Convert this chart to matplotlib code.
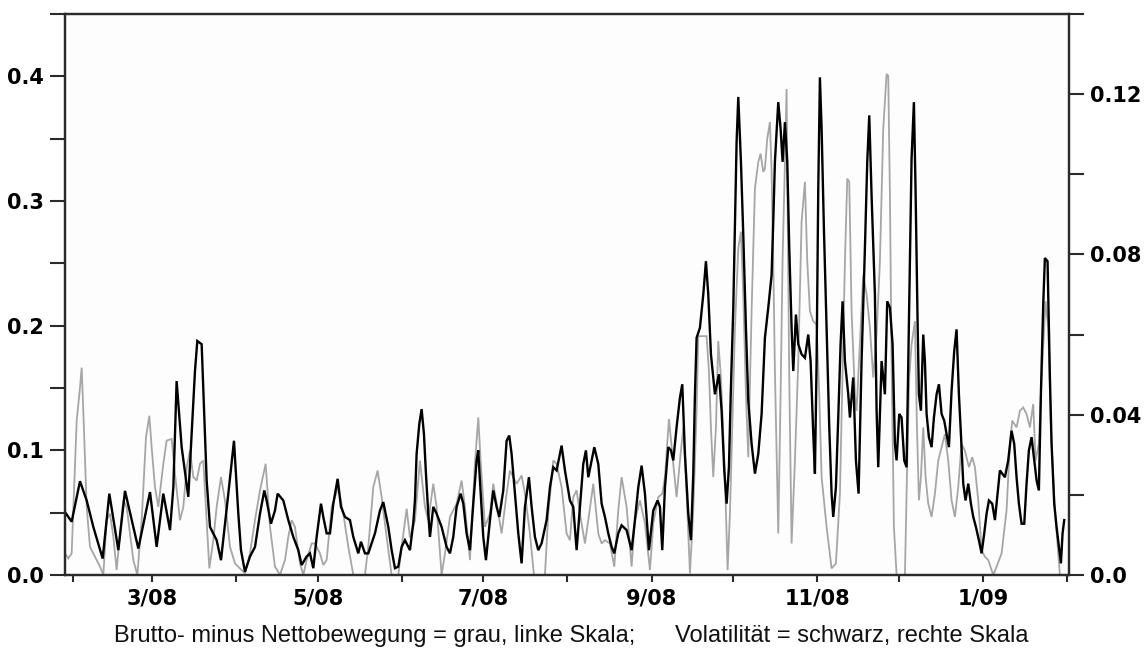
import numpy as np
import matplotlib
matplotlib.use('Agg')
import matplotlib.pyplot as plt
import matplotlib.dates as mdates
from matplotlib.ticker import FixedLocator, FixedFormatter, FuncFormatter
import datetime as dt

start_date = dt.datetime(2008, 1, 29)
x_end_day = 369.7

gray_days = [0, 1.23, 2.45, 4.3, 5.52, 6.14, 7.0, 7.98, 9.2, 11.05, 12.89, 14.11, 15.34, 16.57, 17.8,
             19.02, 20.25, 21.48, 22.7, 23.93, 25.16, 26.63, 28.23, 29.82, 31.05, 31.91, 33.13, 34.36,
             36.2, 37.43, 39.27, 40.5, 42.34, 43.57, 44.8, 46.02, 47.25, 48.48, 49.71, 50.93, 52.16,
             53.14, 54.61, 55.84, 57.44, 58.91, 60.75, 62.59, 66.27, 68.11, 69.95, 71.8, 73.88, 75.48,
             77.32, 79.16, 81.0, 82.23, 83.45, 84.68, 86.52, 87.75, 88.98, 90.82, 92.05, 93.89, 95.11,
             96.34, 98.18, 99.41, 100.64, 102.48, 104.32, 106.16, 110.45, 111.68, 113.52, 115.12,
             116.59, 118.43, 120.27, 122.73, 123.96, 125.8, 127.02, 128.86, 130.7, 132.54, 133.77,
             135.61, 136.84, 138.68, 139.91, 141.75, 144.2, 146.04, 147.27, 149.11, 150.95, 152.18,
             153.04, 154.63, 156.48, 157.7, 159.18, 160.77, 162.61, 163.84, 166.29, 168.13, 169.36,
             171.2, 172.68, 176.73, 177.95, 179.79, 181.02, 182.86, 184.7, 185.93, 187.16, 188.39,
             189.61, 191.46, 192.69, 194.53, 196.37, 197.6, 198.82, 200.66, 202.26, 203.73, 204.96,
             206.8, 208.64, 209.87, 211.71, 213.55, 215.39, 216.62, 218.46, 219.93, 220.92, 222.39,
             223.98, 225.21, 226.44, 227.67, 228.89, 230.12, 231.35, 232.57, 233.19, 236.26, 237.11,
             237.85, 238.71, 239.69, 240.55, 241.53, 243.01, 243.99, 244.85, 245.71, 246.69, 247.92,
             248.9, 249.76, 250.74, 251.6, 252.82, 254.05, 255.28, 256.14, 257.12, 257.73, 258.59,
             259.57, 260.19, 260.8, 261.41, 262.64, 263.5, 264.24, 265.1, 265.71, 266.08, 266.69,
             267.55, 268.78, 270.01, 271.23, 272.46, 273.32, 274.3, 275.53, 276.76, 277.74, 278.6,
             280.44, 282.28, 283.87, 285.35, 286.33, 287.19, 288.05, 288.78, 289.64, 290.87, 291.48,
             293.94, 295.17, 296.39, 297.62, 298.85, 300.07, 301.3, 302.53, 303.14, 303.76, 304.37,
             305.23, 306.21, 309.28, 310.14, 310.87, 311.73, 312.96, 313.7, 314.43, 315.17, 316.03,
             316.89, 317.87, 319.1, 320.32, 321.55, 322.78, 324.0, 325.23, 326.46, 327.69, 328.91,
             330.14, 331.37, 332.84, 334.07, 335.05, 336.28, 337.51, 338.73, 339.96, 341.8, 343.03,
             344.87, 346.71, 347.94, 348.8, 350.39, 351.62, 352.85, 354.07, 355.3, 356.53, 357.39,
             358.61, 359.6, 361.07, 362.05, 363.03, 364.5, 366.35, 366.97]
gray_vals = [0.0173, 0.0133, 0.0173, 0.1238, 0.1504, 0.1663, 0.1158, 0.0546, 0.0226, 0.0146, 0.0067,
             0.0, 0.0439, 0.0492, 0.0306, 0.0040, 0.0333, 0.0599, 0.0546, 0.0333, 0.0120, 0.0, 0.0439,
             0.1104, 0.1277, 0.1025, 0.0705, 0.0546, 0.0892, 0.1078, 0.1091, 0.0812, 0.0439, 0.0546,
             0.0865, 0.0998, 0.0785, 0.0758, 0.0892, 0.0918, 0.0439, 0.0053, 0.0279, 0.0546, 0.0785,
             0.0599, 0.0226, 0.0093, 0.0013, 0.0173, 0.0439, 0.0679, 0.0892, 0.0386, 0.0067, 0.0,
             0.0120, 0.0306, 0.0439, 0.0386, 0.0093, 0.0, 0.0120, 0.0253, 0.0253, 0.0173, 0.0080,
             0.0120, 0.0546, 0.0625, 0.0705, 0.0492, 0.0226, 0.0, 0.0, 0.0226, 0.0705, 0.0838, 0.0625,
             0.0306, 0.0, 0.0, 0.0226, 0.0532, 0.0300, 0.0439, 0.0918, 0.0546, 0.0439, 0.0732, 0.0546,
             0.0, 0.0173, 0.0466, 0.0572, 0.0758, 0.0546, 0.0120, 0.0892, 0.1264, 0.0918, 0.0386,
             0.0492, 0.0732, 0.0546, 0.0333, 0.0652, 0.0838, 0.0732, 0.0798, 0.0652, 0.0333, 0.0, 0.0,
             0.0492, 0.0918, 0.0892, 0.0705, 0.0333, 0.0279, 0.0625, 0.0679, 0.0492, 0.0253, 0.0439,
             0.0732, 0.0333, 0.0253, 0.0279, 0.0253, 0.0067, 0.0519, 0.0785, 0.0546, 0.0067, 0.0439,
             0.0599, 0.0413, 0.0040, 0.0413, 0.0625, 0.0652, 0.0785, 0.1251, 0.0892, 0.0625, 0.0918,
             0.1184, 0.0652, 0.0013, 0.0519, 0.1317, 0.1916, 0.1916, 0.1637, 0.1184, 0.0785, 0.1184,
             0.1876, 0.1584, 0.0785, 0.0040, 0.0492, 0.1184, 0.1983, 0.2621, 0.2754, 0.2249, 0.1450,
             0.0945, 0.2116, 0.3100, 0.3313, 0.3380, 0.3234, 0.3260, 0.3500, 0.3633, 0.3234, 0.2515,
             0.1637, 0.0333, 0.1450, 0.2542, 0.3313, 0.3899, 0.2967, 0.1584, 0.0253, 0.0918, 0.1717,
             0.2834, 0.3154, 0.2515, 0.2116, 0.2036, 0.2009, 0.1450, 0.0785, 0.0386, 0.0053, 0.0093,
             0.0652, 0.1663, 0.2515, 0.3180, 0.3154, 0.2116, 0.1450, 0.1317, 0.2409, 0.2249, 0.1983,
             0.1584, 0.1929, 0.2515, 0.3580, 0.4019, 0.4005, 0.3047, 0.1717, 0.0386, 0.0, 0.0, 0.0918,
             0.1584, 0.1850, 0.2036, 0.1200, 0.0599, 0.0785, 0.1184, 0.0785, 0.0572, 0.0466, 0.0652,
             0.0918, 0.1025, 0.1131, 0.0918, 0.0599, 0.0466, 0.0705, 0.1051, 0.0998, 0.0865, 0.0945,
             0.0865, 0.0599, 0.0200, 0.0146, 0.0120, 0.0, 0.0067, 0.0173, 0.0519, 0.1051, 0.1238,
             0.1184, 0.1317, 0.1344, 0.1291, 0.1184, 0.1371, 0.0918, 0.1051, 0.1584, 0.2196, 0.1983,
             0.1184, 0.0519, 0.0, 0.0]

black_days = [0, 2.45, 5.52, 7.98, 10.43, 13.87, 16.32, 19.64, 22.09, 27.0, 31.3, 33.75, 36.2, 38.66,
              39.9, 41.1, 42.96, 45.4, 47.86, 48.72, 50.32, 52.16, 53.39, 55.84, 57.44, 60.14, 62.22,
              63.82, 64.8, 66.27, 68.11, 69.96, 71.8, 73.39, 74.25, 75.85, 77.32, 78.3, 80.39, 82.23,
              84.07, 85.91, 87.14, 88.98, 90.2, 91.43, 92.66, 94.26, 95.11, 96.34, 97.57, 98.8, 100.39,
              101.62, 103.09, 104.93, 106.16, 108.0, 108.98, 110.46, 111.68, 114.14, 115.98, 117.2,
              119.05, 120.28, 121.5, 122.73, 123.96, 125.18, 127.02, 128.25, 128.86, 129.47, 130.46,
              131.32, 132.17, 132.91, 133.77, 134.38, 135.61, 136.84, 138.68, 140.52, 141.75, 142.97,
              144.2, 145.68, 146.66, 147.88, 149.11, 150.34, 151.57, 152.18, 152.79, 154.02, 155.0,
              156.48, 157.7, 158.93, 159.91, 161.38, 162.61, 163.59, 164.45, 165.68, 166.91, 168.13,
              169.36, 170.83, 171.82, 173.04, 174.27, 175.5, 177.34, 178.57, 179.79, 181.02, 182.86,
              184.09, 185.93, 187.16, 188.39, 189.61, 190.84, 191.82, 192.69, 193.91, 194.9, 196.37,
              197.6, 198.82, 200.05, 201.28, 202.26, 203.73, 204.96, 206.8, 208.64, 209.87, 211.1,
              212.32, 213.55, 215.02, 216.62, 218.21, 219.07, 219.93, 220.92, 222.14, 223.12, 223.98,
              225.21, 226.44, 227.3, 228.28, 229.51, 230.49, 231.35, 231.96, 232.57, 233.8, 235.03,
              236.01, 236.87, 237.85, 239.32, 240.79, 241.78, 242.76, 243.62, 244.48, 245.21, 246.08,
              246.69, 247.3, 247.92, 248.9, 249.76, 250.74, 251.6, 252.83, 254.05, 255.28, 256.51,
              257.73, 258.96, 260.19, 260.8, 261.41, 262.64, 263.5, 264.24, 265.1, 265.96, 266.69,
              267.55, 268.17, 269.15, 270.01, 271.23, 272.46, 273.69, 274.55, 275.53, 276.14, 276.76,
              277.37, 277.98, 278.6, 279.45, 280.44, 281.42, 282.28, 282.89, 283.87, 284.73, 285.59,
              286.33, 287.19, 288.41, 289.03, 290.25, 291.24, 292.22, 293.32, 294.55, 295.41, 296.15,
              297.0, 298.23, 298.85, 299.46, 300.69, 301.91, 302.77, 303.76, 304.74, 305.6, 306.21,
              307.19, 308.05, 309.03, 309.89, 310.51, 311.12, 311.73, 312.59, 313.21, 313.94, 314.43,
              315.17, 316.03, 316.64, 317.26, 318.11, 319.1, 319.96, 320.94, 321.8, 322.78, 323.76,
              324.62, 325.48, 326.46, 327.44, 328.3, 329.16, 329.9, 330.76, 331.61, 332.6, 333.58,
              334.44, 335.42, 336.52, 337.51, 338.49, 339.35, 340.21, 341.43, 342.42, 343.4, 344.26,
              345.12, 346.1, 347.32, 348.55, 349.53, 350.39, 351.25, 352.23, 353.22, 354.07, 354.93,
              355.92, 356.9, 357.76, 358.61, 359.35, 360.21, 360.82, 361.8, 362.67, 363.28, 364.26,
              365.12, 365.98, 366.72, 367.33, 367.94]
black_vals = [0.0157, 0.0133, 0.0234, 0.0186, 0.0120, 0.0041, 0.0203, 0.0062, 0.0210, 0.0066, 0.0207,
              0.0070, 0.0203, 0.0112, 0.0219, 0.0484, 0.0319, 0.0195, 0.0509, 0.0584, 0.0576, 0.0236,
              0.0120, 0.0087, 0.0037, 0.0203, 0.0335, 0.0153, 0.0062, 0.0008, 0.0046, 0.0070, 0.0153,
              0.0211, 0.0186, 0.0128, 0.0161, 0.0203, 0.0186, 0.0137, 0.0095, 0.0062, 0.0025, 0.0046,
              0.0054, 0.0017, 0.0095, 0.0178, 0.0145, 0.0104, 0.0104, 0.0178, 0.0240, 0.0170, 0.0145,
              0.0137, 0.0095, 0.0054, 0.0083, 0.0054, 0.0054, 0.0104, 0.0161, 0.0182, 0.0120, 0.0062,
              0.0017, 0.0021, 0.0070, 0.0087, 0.0062, 0.0130, 0.0186, 0.0302, 0.0377, 0.0414, 0.0352,
              0.0253, 0.0153, 0.0095, 0.0170, 0.0153, 0.0120, 0.0070, 0.0054, 0.0095, 0.0170, 0.0203,
              0.0178, 0.0104, 0.0062, 0.0178, 0.0286, 0.0311, 0.0236, 0.0095, 0.0037, 0.0137, 0.0211,
              0.0170, 0.0145, 0.0211, 0.0335, 0.0348, 0.0302, 0.0203, 0.0104, 0.0029, 0.0170, 0.0244,
              0.0170, 0.0095, 0.0062, 0.0079, 0.0137, 0.0219, 0.0269, 0.0261, 0.0323, 0.0261, 0.0186,
              0.0170, 0.0062, 0.0170, 0.0277, 0.0311, 0.0244, 0.0286, 0.0319, 0.0277, 0.0178, 0.0145,
              0.0104, 0.0070, 0.0054, 0.0104, 0.0124, 0.0112, 0.0062, 0.0137, 0.0219, 0.0273, 0.0203,
              0.0062, 0.0161, 0.0186, 0.0170, 0.0062, 0.0219, 0.0319, 0.0311, 0.0286, 0.0369, 0.0443,
              0.0476, 0.0302, 0.0153, 0.0087, 0.0253, 0.0451, 0.0592, 0.0617, 0.0700, 0.0783, 0.0700,
              0.0551, 0.0451, 0.0501, 0.0410, 0.0261, 0.0178, 0.0269, 0.0468, 0.0667, 0.0874, 0.1081,
              0.1193, 0.1031, 0.0849, 0.0617, 0.0435, 0.0327, 0.0253, 0.0302, 0.0402, 0.0592, 0.0667,
              0.0749, 0.0882, 0.1031, 0.1180, 0.1114, 0.1031, 0.1130, 0.1031, 0.0816, 0.0617, 0.0509,
              0.0650, 0.0576, 0.0551, 0.0542, 0.0600, 0.0534, 0.0352, 0.0253, 0.0534, 0.0965, 0.1242,
              0.1114, 0.0865, 0.0617, 0.0369, 0.0203, 0.0145, 0.0219, 0.0393, 0.0576, 0.0683, 0.0534,
              0.0451, 0.0393, 0.0493, 0.0286, 0.0203, 0.0534, 0.0816, 0.1031, 0.1147, 0.0948, 0.0700,
              0.0410, 0.0269, 0.0534, 0.0451, 0.0683, 0.0667, 0.0576, 0.0327, 0.0286, 0.0402, 0.0393,
              0.0286, 0.0269, 0.0534, 0.0783, 0.1039, 0.1180, 0.0957, 0.0634, 0.0451, 0.0410, 0.0600,
              0.0534, 0.0402, 0.0344, 0.0319, 0.0393, 0.0451, 0.0476, 0.0402, 0.0385, 0.0352, 0.0319,
              0.0460, 0.0559, 0.0613, 0.0451, 0.0352, 0.0228, 0.0186, 0.0228, 0.0178, 0.0145, 0.0120,
              0.0087, 0.0054, 0.0104, 0.0153, 0.0186, 0.0178, 0.0137, 0.0203, 0.0261, 0.0253, 0.0244,
              0.0286, 0.0360, 0.0327, 0.0244, 0.0178, 0.0128, 0.0128, 0.0228, 0.0311, 0.0344, 0.0286,
              0.0236, 0.0211, 0.0451, 0.0675, 0.0791, 0.0783, 0.0493, 0.0327, 0.0178, 0.0120, 0.0070,
              0.0029, 0.0104, 0.0137]

left_ticks = [0.0, 0.1, 0.2, 0.3, 0.4]
left_labels = ['0.0', '0.1', '0.2', '0.3', '0.4']
left_minor = [0.05, 0.15, 0.25, 0.35, 0.45]
right_ticks = [0.0, 0.04, 0.08, 0.12]
right_labels = ['0.0', '0.04', '0.08', '0.12']
right_minor = [0.02, 0.06, 0.10, 0.14]
caption = "Brutto- minus Nettobewegung = grau, linke Skala;      Volatilität = schwarz, rechte Skala"

plt.rcParams['font.family'] = ['DejaVu Sans']
plt.rcParams['font.weight'] = 'bold'

W, H = 1147, 648
fig = plt.figure(figsize=(W / 100, H / 100), dpi=100)
fig.patch.set_facecolor('white')
ax = fig.add_axes([65 / W, 1 - 575 / H, (1069 - 65) / W, (575 - 14) / H])
ax.set_facecolor('#fdfdfd')

base = mdates.date2num(start_date)
gx = base + np.array(gray_days)
bx = base + np.array(black_days)

ax.plot(gx, gray_vals, color='#a6a6a6', lw=1.3, solid_joinstyle='miter')
ax2 = ax.twinx()
ax2.plot(bx, black_vals, color='black', lw=1.7, solid_joinstyle='miter')

ax.set_xlim(base, base + x_end_day)
ax.set_ylim(0, 0.45)
ax2.set_ylim(0, 0.14)

ax.xaxis.set_major_locator(mdates.MonthLocator(bymonth=[1, 3, 5, 7, 9, 11]))
ax.xaxis.set_minor_locator(mdates.MonthLocator())
ax.xaxis.set_major_formatter(FuncFormatter(
    lambda v, p: f"{mdates.num2date(v).month}/{mdates.num2date(v):%y}"))

ax.yaxis.set_major_locator(FixedLocator(left_ticks))
ax.yaxis.set_major_formatter(FixedFormatter(left_labels))
ax.yaxis.set_minor_locator(FixedLocator(left_minor))
ax2.yaxis.set_major_locator(FixedLocator(right_ticks))
ax2.yaxis.set_major_formatter(FixedFormatter(right_labels))
ax2.yaxis.set_minor_locator(FixedLocator(right_minor))

spc = '#2b2b2b'
for a in (ax, ax2):
    for s in a.spines.values():
        s.set_linewidth(1.6)
        s.set_color(spc)
ax.tick_params(axis='y', which='both', direction='out', length=11, width=1.5, color=spc,
               pad=4, labelsize=15)
ax2.tick_params(axis='y', which='both', direction='out', length=11, width=1.5, color=spc,
                pad=4, labelsize=15)
ax.tick_params(axis='x', which='both', direction='out', length=5, width=1.5, color=spc,
               pad=5, labelsize=15)

fig.text(0.498, 1 - 636 / H, caption, ha='center', va='center', fontsize=17,
         family='Liberation Sans', weight='normal', color='#111111')

fig.savefig('out.png', dpi=100)
